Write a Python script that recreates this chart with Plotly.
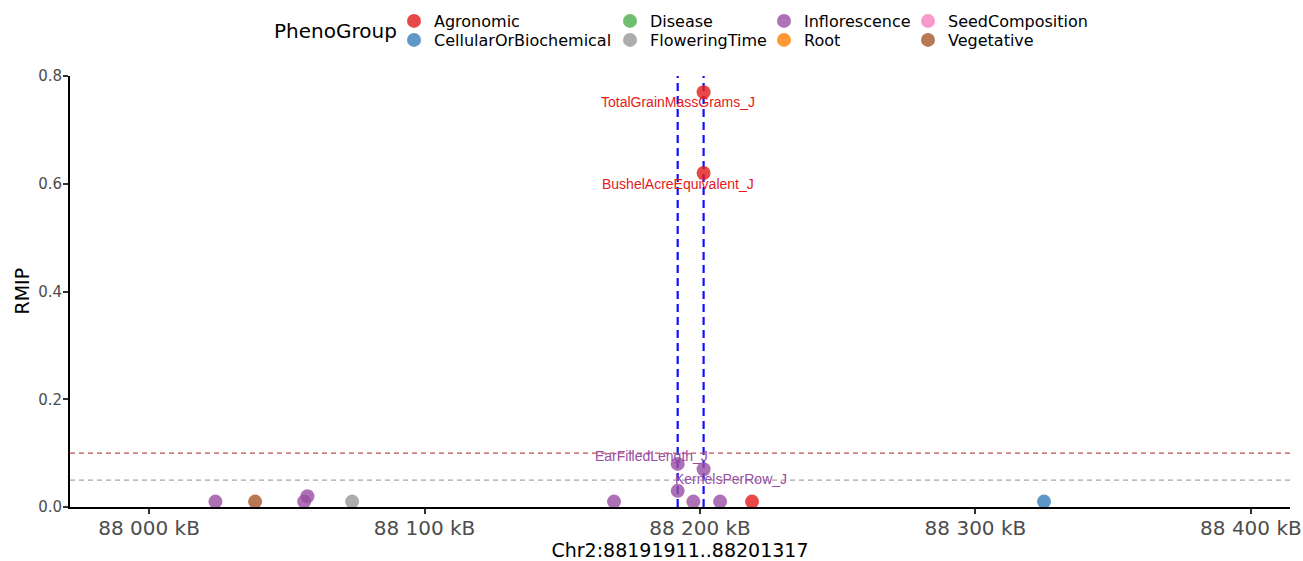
import plotly.graph_objects as go

# ---------------- data ----------------
snp_pos = [88201317, 88201317, 88218900, 88324900, 88073700, 88024100, 88056300,
           88057500, 88168800, 88191911, 88191911, 88197600, 88201317, 88207300, 88038500]
snp_rmip = [0.77, 0.62, 0.01, 0.01, 0.01, 0.01, 0.01,
            0.02, 0.01, 0.08, 0.03, 0.01, 0.07, 0.01, 0.01]
snp_group = ["Agronomic", "Agronomic", "Agronomic", "CellularOrBiochemical", "FloweringTime",
             "Inflorescence", "Inflorescence", "Inflorescence", "Inflorescence", "Inflorescence",
             "Inflorescence", "Inflorescence", "Inflorescence", "Inflorescence", "Vegetative"]

label_text = ["TotalGrainMassGrams_J", "BushelAcreEquivalent_J", "EarFilledLength_J", "KernelsPerRow_J"]
label_pos = [88201317, 88201317, 88191911, 88201317]
label_rmip = [0.77, 0.62, 0.08, 0.07]
label_group = ["Agronomic", "Agronomic", "Inflorescence", "Inflorescence"]

pheno_groups = ["Agronomic", "CellularOrBiochemical", "Disease", "FloweringTime",
                "Inflorescence", "Root", "SeedComposition", "Vegetative"]
group_colors = ["#E41A1C", "#377EB8", "#4DAF4A", "#999999",
                "#984EA3", "#FF7F00", "#F781BF", "#A65628"]

region_bounds = [88191911, 88201317]
thresholds = [0.1, 0.05]
threshold_colors = ["#C0504D", "#A6A6A6"]

x_tickvals = [88000000, 88100000, 88200000, 88300000, 88400000]
x_ticktext = ["88 000 kB", "88 100 kB", "88 200 kB", "88 300 kB", "88 400 kB"]
y_tickvals = [0.0, 0.2, 0.4, 0.6, 0.8]

x_title = "Chr2:88191911..88201317"
y_title = "RMIP"
legend_title = "PhenoGroup"

# ---------------- figure ----------------
W, H = 1303, 561
PL, PR, PT, PB = 70, 1290, 76, 507  # plot area in pixels
fig = go.Figure()

color_of = dict(zip(pheno_groups, group_colors))
# legend grid: 4 columns x 2 rows, filled column by column
col_text_x = [434, 650, 804, 948]   # x where legend text starts
row_center_y = [21, 40]             # y of legend rows
legend_ids = ["legend" if i == 0 else "legend%d" % (i + 1) for i in range(len(pheno_groups))]

legend_style = dict(orientation="v", xref="container", yref="container", xanchor="left",
                    yanchor="top", bgcolor="rgba(0,0,0,0)",
                    font=dict(family="DejaVu Sans", size=16, color="black"),
                    itemclick=False, itemdoubleclick=False, tracegroupgap=0)
legend_layouts = {}
for i, (g, lid) in enumerate(zip(pheno_groups, legend_ids)):
    xs = [p for p, gg in zip(snp_pos, snp_group) if gg == g]
    ys = [r for r, gg in zip(snp_rmip, snp_group) if gg == g]
    if not xs:  # group without SNPs: keep a legend entry only
        xs, ys = [None], [None]
    fig.add_trace(go.Scatter(
        x=xs, y=ys, mode="markers", name=g, legend=lid,
        marker=dict(size=14, color=color_of[g], opacity=0.8, line=dict(width=0)),
        cliponaxis=False,
    ))
    col, row = i // 2, i % 2
    top_px = max(row_center_y[row] - 17, 0)
    legend_layouts[lid] = dict(**legend_style, x=(col_text_x[col] - 40) / W,
                               y=1 - top_px / H)
fig.update_layout(**legend_layouts)

# vertical region lines
for xb in region_bounds:
    fig.add_shape(type="line", xref="x", yref="paper", x0=xb, x1=xb, y0=0, y1=1,
                  line=dict(color="#1010FF", width=2.2, dash="8px,5px"), layer="below")
# horizontal thresholds
for yt, c in zip(thresholds, threshold_colors):
    fig.add_shape(type="line", xref="paper", yref="y", x0=0, x1=1, y0=yt, y1=yt,
                  line=dict(color=c, width=1.3, dash="5px,4px"), layer="below")

# labels (ggrepel-like)
shifts = [(-26, -10), (-26, -11), (-26, 8), (27, -10)]
for t, xp, yp, g, (dx, dy) in zip(label_text, label_pos, label_rmip, label_group, shifts):
    fig.add_annotation(x=xp, y=yp, text=t, showarrow=False, xshift=dx, yshift=dy,
                       font=dict(family="Liberation Sans", size=14, color=color_of[g]))

# legend title
fig.add_annotation(xref="paper", yref="paper", x=(272 - PL) / (PR - PL), y=1 + (PT - 31) / (PB - PT),
                   xanchor="left", yanchor="middle", text=legend_title, showarrow=False,
                   font=dict(family="DejaVu Sans", size=20, color="black"))

# y axis title
fig.add_annotation(xref="paper", yref="paper", x=(21 - PL) / (PR - PL), y=0.5,
                   xanchor="center", yanchor="middle", text=y_title, textangle=-90,
                   showarrow=False, font=dict(family="DejaVu Sans", size=19, color="black"))

fig.update_layout(
    width=W, height=H,
    margin=dict(l=PL, r=W - PR, t=PT, b=H - PB, pad=0, autoexpand=False),
    plot_bgcolor="white", paper_bgcolor="white",
    font=dict(family="DejaVu Sans", color="black"),
    showlegend=True,
)
fig.update_xaxes(
    type="linear",
    range=[87971300, 88414200], tickvals=x_tickvals, ticktext=x_ticktext,
    showline=True, linecolor="black", linewidth=2, ticks="outside", ticklen=5,
    tickcolor="#333333", tickwidth=1.5, showgrid=False, zeroline=False,
    ticklabelstandoff=-3,
    tickfont=dict(family="DejaVu Sans", size=20, color="#4D4D4D"),
    title=dict(text=x_title, font=dict(family="DejaVu Sans", size=19, color="black")),
)
fig.update_yaxes(
    type="linear",
    range=[0, 0.8], tickvals=y_tickvals, tickformat=".1f",
    showline=True, linecolor="black", linewidth=2, ticks="outside", ticklen=5,
    tickcolor="#333333", tickwidth=1.5, showgrid=False, zeroline=False,
    ticklabelstandoff=-2,
    tickfont=dict(family="DejaVu Sans", size=15, color="#4D4D4D"),
)

fig.write_html("out.html", config={"displayModeBar": False},
               post_script="document.body.style.margin='0';document.body.style.overflow='hidden';")
